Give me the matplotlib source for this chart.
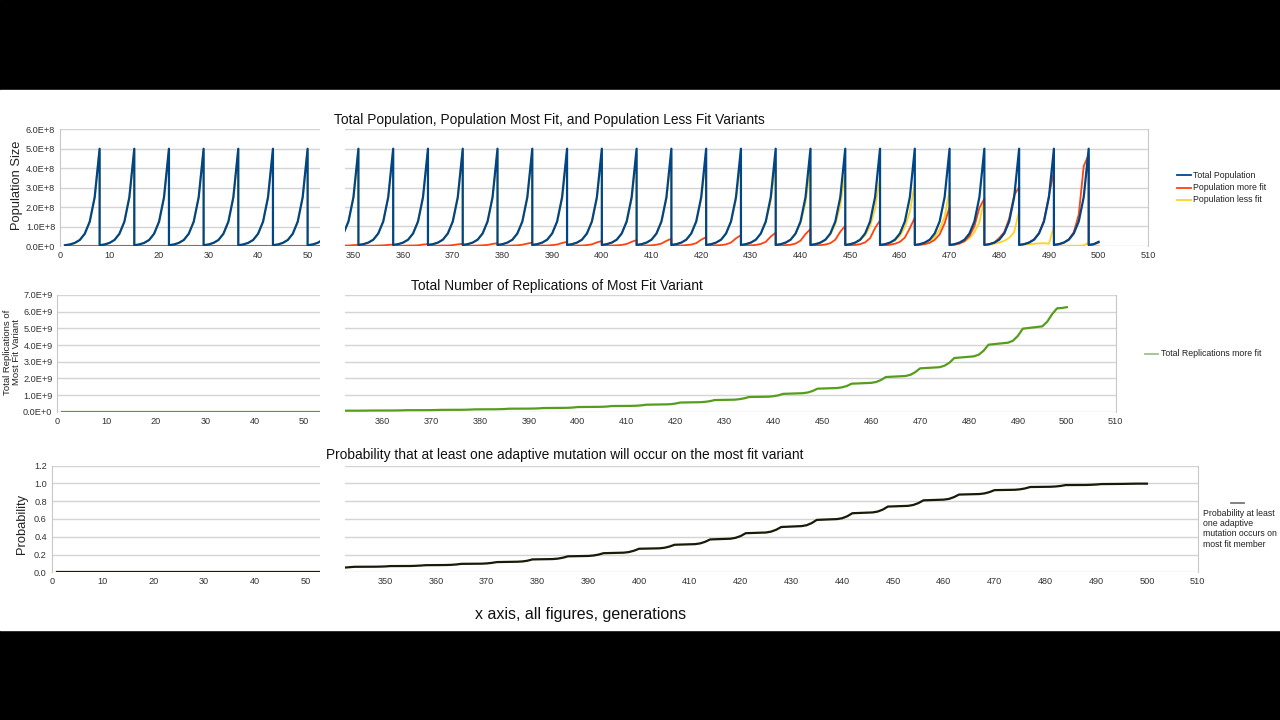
import matplotlib
matplotlib.use('Agg')
import matplotlib.pyplot as plt
from matplotlib.patches import Rectangle

plt.rcParams['font.family'] = ['Liberation Sans', 'DejaVu Sans']

# ---------------- data ----------------
# total population over one cut-and-regrow cycle (x1e8), the same each cycle
cycle_total = [0.04, 0.08, 0.16, 0.31, 0.63, 1.25, 2.5, 5.0]

# left panels: generations 1..52
left_starts = [1, 8, 15, 22, 29, 36, 43, 50]
left_red = [0.0, 0.0, 0.0, 0.0, 0.0, 0.0, 0.0, 0.0]

# right panels: generations 343..500
right_starts = [344, 351, 358, 365, 372, 379, 386, 393, 400, 407, 414,
                421, 428, 435, 442, 449, 456, 463, 470, 477, 484, 491]

# population more fit (x1e8), one row per cycle
red_cycles = [
    [0.0, 0.0, 0.0, 0.0, 0.01, 0.01, 0.03, 0.04],
    [0.0, 0.0, 0.0, 0.0, 0.01, 0.02, 0.04, 0.06],
    [0.0, 0.0, 0.0, 0.01, 0.01, 0.02, 0.06, 0.08],
    [0.0, 0.0, 0.0, 0.01, 0.01, 0.03, 0.07, 0.10],
    [0.0, 0.0, 0.0, 0.01, 0.02, 0.04, 0.09, 0.13],
    [0.0, 0.0, 0.0, 0.01, 0.02, 0.05, 0.11, 0.16],
    [0.0, 0.0, 0.01, 0.01, 0.03, 0.06, 0.14, 0.20],
    [0.0, 0.0, 0.01, 0.01, 0.03, 0.07, 0.17, 0.24],
    [0.0, 0.0, 0.01, 0.02, 0.04, 0.09, 0.20, 0.29],
    [0.0, 0.01, 0.01, 0.02, 0.05, 0.11, 0.25, 0.36],
    [0.0, 0.01, 0.01, 0.03, 0.06, 0.13, 0.31, 0.44],
    [0.0, 0.01, 0.02, 0.03, 0.07, 0.16, 0.38, 0.54],
    [0.01, 0.01, 0.02, 0.04, 0.09, 0.20, 0.47, 0.67],
    [0.01, 0.01, 0.03, 0.05, 0.11, 0.26, 0.60, 0.86],
    [0.01, 0.02, 0.03, 0.06, 0.13, 0.31, 0.72, 1.03],
    [0.01, 0.02, 0.04, 0.08, 0.17, 0.39, 0.91, 1.30],
    [0.01, 0.02, 0.05, 0.10, 0.20, 0.42, 0.90, 1.45],
    [0.02, 0.04, 0.08, 0.15, 0.30, 0.58, 1.15, 2.00],
    [0.02, 0.05, 0.11, 0.23, 0.50, 1.00, 1.95, 2.43],
    [0.03, 0.07, 0.16, 0.40, 0.70, 1.40, 2.60, 3.03],
    [0.04, 0.08, 0.17, 0.33, 0.66, 1.30, 2.60, 3.83],
    [0.04, 0.08, 0.16, 0.33, 0.70, 1.60, 4.10, 4.70],
]

# population less fit (x1e8), one row per cycle
yellow_cycles = [
    [0.04, 0.08, 0.16, 0.31, 0.63, 1.25, 2.48, 4.96],
    [0.04, 0.08, 0.16, 0.31, 0.63, 1.25, 2.48, 4.94],
    [0.04, 0.08, 0.16, 0.31, 0.63, 1.25, 2.47, 4.92],
    [0.04, 0.08, 0.16, 0.31, 0.63, 1.25, 2.46, 4.90],
    [0.04, 0.08, 0.16, 0.31, 0.63, 1.24, 2.45, 4.87],
    [0.04, 0.08, 0.16, 0.31, 0.63, 1.24, 2.44, 4.84],
    [0.04, 0.08, 0.16, 0.31, 0.62, 1.23, 2.42, 4.80],
    [0.04, 0.08, 0.16, 0.31, 0.62, 1.23, 2.41, 4.76],
    [0.04, 0.08, 0.16, 0.31, 0.62, 1.22, 2.40, 4.71],
    [0.04, 0.08, 0.16, 0.31, 0.62, 1.22, 2.38, 4.64],
    [0.04, 0.08, 0.16, 0.31, 0.62, 1.22, 2.37, 4.56],
    [0.04, 0.08, 0.16, 0.31, 0.62, 1.22, 2.35, 4.50],
    [0.04, 0.08, 0.16, 0.31, 0.61, 1.20, 2.30, 4.30],
    [0.04, 0.08, 0.15, 0.30, 0.60, 1.15, 2.20, 4.05],
    [0.04, 0.07, 0.15, 0.29, 0.57, 1.10, 2.05, 3.80],
    [0.04, 0.07, 0.14, 0.28, 0.54, 1.00, 1.90, 3.55],
    [0.04, 0.07, 0.14, 0.26, 0.50, 0.95, 1.75, 3.20],
    [0.03, 0.07, 0.13, 0.24, 0.45, 0.85, 1.50, 2.85],
    [0.03, 0.06, 0.12, 0.22, 0.40, 0.70, 1.20, 2.40],
    [0.03, 0.06, 0.10, 0.16, 0.25, 0.40, 0.70, 1.80],
    [0.02, 0.05, 0.08, 0.10, 0.12, 0.13, 0.10, 1.00],
    [0.01, 0.01, 0.0, 0.0, 0.0, 0.0, 0.02, 0.15],
]

tail_gens = [498, 499, 500]
tail_total = [0.04, 0.08, 0.20]
tail_red = [0.03, 0.07, 0.16]
tail_yellow = [0.0, 0.0, 0.0]

# total replications of most fit (x1e9): values at cycle steps 4..7
repl_rows = [
    [0.05, 0.052, 0.055, 0.06], [0.061, 0.063, 0.066, 0.07],
    [0.072, 0.075, 0.081, 0.09], [0.092, 0.095, 0.10, 0.11],
    [0.114, 0.118, 0.127, 0.14], [0.145, 0.15, 0.16, 0.18],
    [0.185, 0.19, 0.20, 0.22], [0.23, 0.235, 0.25, 0.28],
    [0.29, 0.295, 0.31, 0.34], [0.35, 0.36, 0.38, 0.42],
    [0.44, 0.45, 0.49, 0.55], [0.57, 0.59, 0.63, 0.70],
    [0.72, 0.75, 0.80, 0.88], [0.90, 0.93, 0.98, 1.07],
    [1.11, 1.15, 1.24, 1.38], [1.42, 1.46, 1.54, 1.68],
    [1.73, 1.78, 1.90, 2.08], [2.14, 2.21, 2.37, 2.60],
    [2.67, 2.76, 2.94, 3.22], [3.32, 3.42, 3.66, 4.02],
    [4.14, 4.26, 4.55, 4.98], [5.12, 5.40, 5.85, 6.20],
]
repl_head = ([343, 344], [0.05, 0.05])
repl_tail = ([499, 500], [6.22, 6.27])
repl_left = ([1, 54], [0.0, 0.0])

# probability at least one adaptive mutation: values at cycle steps 4..7
prob_rows = [
    [0.063, 0.064, 0.066, 0.07], [0.071, 0.073, 0.076, 0.08],
    [0.082, 0.084, 0.088, 0.095], [0.097, 0.10, 0.106, 0.115],
    [0.119, 0.122, 0.13, 0.145], [0.149, 0.154, 0.164, 0.18],
    [0.184, 0.189, 0.199, 0.215], [0.221, 0.228, 0.243, 0.265],
    [0.27, 0.276, 0.29, 0.31], [0.317, 0.325, 0.343, 0.37],
    [0.378, 0.388, 0.408, 0.44], [0.448, 0.458, 0.479, 0.51],
    [0.52, 0.53, 0.554, 0.59], [0.599, 0.609, 0.631, 0.665],
    [0.674, 0.684, 0.706, 0.74], [0.748, 0.758, 0.779, 0.81],
    [0.818, 0.826, 0.846, 0.875], [0.881, 0.888, 0.903, 0.925],
    [0.929, 0.934, 0.944, 0.96], [0.963, 0.966, 0.972, 0.982],
    [0.983, 0.985, 0.988, 0.993], [0.995, 0.996, 0.997, 0.998],
]
prob_head = ([342, 344], [0.053, 0.062])
prob_tail = ([499, 500], [0.998, 0.998])
prob_left = ([1, 54], [0.0, 0.0])

pop_ticks = ['0.0E+0', '1.0E+8', '2.0E+8', '3.0E+8', '4.0E+8', '5.0E+8', '6.0E+8']
repl_ticks = ['0.0E+0', '1.0E+9', '2.0E+9', '3.0E+9', '4.0E+9', '5.0E+9', '6.0E+9', '7.0E+9']
prob_ticks = ['0.0', '0.2', '0.4', '0.6', '0.8', '1.0', '1.2']

NAVY, RED, YELLOW = '#004586', '#ff420e', '#ffd320'
GREEN, DARK = '#579d1c', '#1a1a08'


def cycles(starts, rows, scale):
    xs, ys = [], []
    for s, row in zip(starts, rows):
        xs += list(range(s, s + 8))
        ys += [v * scale for v in row]
    return xs, ys


def steps(starts, rows, head, tail):
    xs, ys = list(head[0]), list(head[1])
    for s, row in zip(starts, rows):
        xs += list(range(s + 4, s + 8))
        ys += row
    return xs + tail[0], ys + tail[1]


# ---------------- figure ----------------
W, H = 1280, 720
fig = plt.figure(figsize=(12.8, 7.2), dpi=100)
fig.add_artist(Rectangle((0, 0), 1, 1, transform=fig.transFigure, color='black', zorder=-10))
fig.add_artist(Rectangle((0, 1 - 630 / H), 1, 540 / H, transform=fig.transFigure,
                         color='white', zorder=-9))


def ftext(x, y, s, **kw):
    fig.text(x / W, 1 - y / H, s, **kw)


def panel(x0, y0, x1, y1, xlim, ylim, nticks, ylabels, xticks, left):
    ax = fig.add_axes([x0 / W, 1 - y1 / H, (x1 - x0) / W, (y1 - y0) / H])
    ax.patch.set_alpha(0)
    ax.set_xlim(xlim)
    ax.set_ylim(ylim)
    ax.set_yticks([ylim[1] * i / (nticks - 1) for i in range(nticks)])
    ax.set_xticks(xticks)
    ax.grid(axis='y', color='#d4d4d4', lw=1)
    ax.set_axisbelow(True)
    for sp in ax.spines.values():
        sp.set_visible(False)
    if left:
        ax.spines['left'].set_visible(True)
        ax.spines['left'].set_color('#c8c8c8')
        ax.set_yticklabels(ylabels)
    else:
        ax.spines['right'].set_visible(True)
        ax.spines['right'].set_color('#c8c8c8')
        ax.set_yticklabels([])
    ax.tick_params(length=0, labelsize=6.6, colors='#333333', pad=3.5)
    return ax


left_xt = [0, 10, 20, 30, 40, 50]

# ---- row 1: populations ----
a1 = panel(60, 129.3, 320, 246, (0, 52.5), (0, 6e8), 7, pop_ticks, left_xt, True)
a2 = panel(345, 129.3, 1148.3, 245.7, (348.3, 510), (0, 6e8), 7, pop_ticks,
           list(range(350, 511, 10)), False)

x, y = cycles(left_starts, [cycle_total] * len(left_starts), 1e8)
a1.plot(x, y, color=YELLOW, lw=1.3, zorder=2)
xr, yr = cycles(left_starts, [left_red] * len(left_starts), 1e8)
a1.plot(xr, yr, color=RED, lw=1.5, zorder=3)
a1.plot(x, y, color=NAVY, lw=1.6, zorder=4)

x, y = cycles(right_starts, yellow_cycles, 1e8)
a2.plot(x + tail_gens, y + [v * 1e8 for v in tail_yellow], color=YELLOW, lw=1.3, zorder=2)
x, y = cycles(right_starts, red_cycles, 1e8)
a2.plot(x + tail_gens, y + [v * 1e8 for v in tail_red], color=RED, lw=1.3, zorder=3)
x, y = cycles(right_starts, [cycle_total] * len(right_starts), 1e8)
a2.plot(x + tail_gens, y + [v * 1e8 for v in tail_total], color=NAVY, lw=1.6, zorder=4)

# ---- row 2: replications ----
b1 = panel(57.3, 295, 320, 411.7, (0, 53.2), (0, 7e9), 8, repl_ticks, left_xt, True)
b2 = panel(345, 295, 1115.7, 411.7, (352.4, 510), (0, 7e9), 8, repl_ticks,
           list(range(360, 511, 10)), False)
b1.plot(repl_left[0], [v * 1e9 for v in repl_left[1]], color=GREEN, lw=1.6)
x, y = steps(right_starts, repl_rows, repl_head, repl_tail)
b2.plot(x, [v * 1e9 for v in y], color=GREEN, lw=1.6)

# ---- row 3: probability ----
c1 = panel(51.7, 465.7, 320, 572.3, (0, 52.9), (0, 1.2), 7, prob_ticks, left_xt, True)
c2 = panel(345, 465.7, 1197.7, 572.3, (342.1, 510), (0, 1.2), 7, prob_ticks,
           list(range(350, 511, 10)), False)
c1.plot(prob_left[0], prob_left[1], color=DARK, lw=1.6)
x, y = steps(right_starts, prob_rows, prob_head, prob_tail)
c2.plot(x, y, color=DARK, lw=1.6)

# ---- titles and labels ----
ftext(549, 120, 'Total Population, Population Most Fit, and Population Less Fit Variants',
      ha='center', va='center', fontsize=9.9, color='#111111')
ftext(557, 286, 'Total Number of Replications of Most Fit Variant',
      ha='center', va='center', fontsize=9.9, color='#111111')
ftext(565, 455, 'Probability that at least one adaptive mutation will occur on the most fit variant',
      ha='center', va='center', fontsize=9.9, color='#111111')
ftext(581, 615, 'x axis, all figures, generations', ha='center', va='center',
      fontsize=11.5, color='#111111')

ftext(17, 185, 'Population Size', rotation=90, ha='center', va='center',
      fontsize=9.3, color='#222222')
ftext(12, 352, 'Total Replications of\nMost Fit Variant', rotation=90, ha='center',
      va='center', fontsize=6.8, color='#222222', linespacing=1.0)
ftext(22, 524, 'Probability', rotation=90, ha='center', va='center',
      fontsize=9.3, color='#222222')

# ---- legends ----
def legend_line(x0, x1, y, color):
    fig.add_artist(plt.Line2D([x0 / W, x1 / W], [1 - y / H, 1 - y / H], color=color, lw=1.3))


for yy, col, lab in [(175.3, NAVY, 'Total Population'),
                     (187.7, RED, 'Population more fit'),
                     (200, YELLOW, 'Population less fit')]:
    legend_line(1176.7, 1190.7, yy, col)
    ftext(1192.7, yy, lab, ha='left', va='center', fontsize=6.3, color='#222222')

legend_line(1145, 1158.3, 354, '#9cc483')
ftext(1160.7, 354, 'Total Replications more fit', ha='left', va='center',
      fontsize=6.3, color='#222222')

legend_line(1231, 1244, 502.7, '#777777')
ftext(1202.7, 508.5, 'Probability at least\none adaptive\nmutation occurs on\nmost fit member',
      ha='left', va='top', fontsize=6.3, color='#222222', linespacing=1.2)

fig.savefig('out.png', dpi=100)
